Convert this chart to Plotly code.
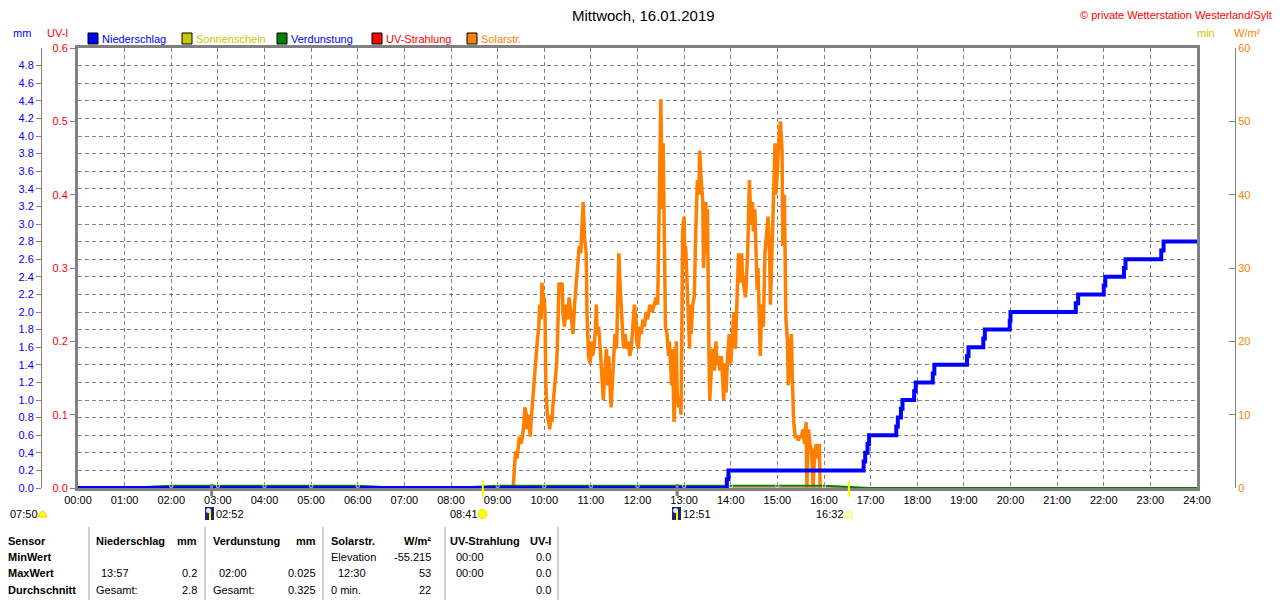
import plotly.graph_objects as go

# Solarstrahlung W/m² (Minuten seit Mitternacht, Wert)
solar_min = [560, 561, 563, 565, 566, 568, 570, 572, 574, 575, 577, 578, 580, 582, 583, 585, 587, 589, 591, 593,
             594, 596, 597, 599, 600, 601, 602, 604, 606, 607, 609, 610, 611, 613, 615, 616, 617, 618, 619, 621,
             623, 624, 626, 628, 630, 632, 634, 636, 637, 639, 641, 643, 645, 647, 649, 650, 652, 654, 655, 656,
             657, 659, 661, 662, 664, 666, 667, 668, 670, 672, 674, 676, 678, 680, 681, 683, 685, 686, 688, 689,
             691, 693, 694, 696, 697, 699, 700, 702, 704, 706, 708, 710, 712, 714, 716, 718, 719, 721, 723, 725,
             727, 729, 731, 733, 736, 739, 742, 744, 746, 748, 750, 751, 752, 753, 754, 755, 756, 758, 760, 761,
             763, 764, 765, 766, 767, 768, 769, 770, 771, 773, 775, 776, 777, 778, 780, 781, 782, 784, 785, 787,
             788, 789, 791, 793, 795, 797, 799, 800, 802, 804, 805, 806, 808, 809, 810, 812, 813, 815, 817, 819,
             821, 822, 824, 826, 828, 829, 831, 832, 834, 836, 838, 840, 842, 844, 846, 848, 850, 852, 854, 855,
             857, 859, 860, 862, 864, 866, 868, 869, 871, 872, 874, 875, 877, 878, 880, 882, 884, 886, 888, 890,
             891, 893, 895, 897, 898, 900, 902, 904, 906, 907, 909, 911, 913, 914, 916, 918, 919, 921, 923, 925,
             927, 929, 931, 933, 935, 937, 938, 940, 942, 944, 946, 948, 950, 952, 954, 955]
solar_wm2 = [0, 2, 5, 4, 5, 7, 6, 7, 9, 11, 10, 8, 10, 7, 9, 12, 15, 17, 20, 22,
             25, 23, 28, 25, 26, 24, 14, 10, 9, 8, 10, 9, 11, 13, 15, 17, 20, 25, 28, 27,
             28, 24, 22, 25, 23, 26, 24, 22, 21, 25, 28, 31, 33, 32, 36, 39, 34, 32, 24, 22,
             18, 17, 20, 18, 19, 22, 25, 21, 22, 19, 15, 12, 16, 19, 14, 18, 13, 11, 15, 17,
             21, 19, 25, 32, 29, 26, 23, 19, 21, 19, 20, 18, 19, 22, 25, 23, 20, 19, 22, 21,
             23, 22, 24, 23, 25, 24, 25, 26, 25, 40, 53, 45, 38, 47, 34, 29, 22, 21, 18, 20,
             17, 14, 19, 11, 9, 12, 18, 20, 13, 11, 12, 10, 20, 35, 37, 30, 33, 27, 22, 19,
             25, 21, 25, 26, 35, 42, 40, 46, 42, 39, 30, 33, 39, 32, 38, 18, 12, 16, 19, 16,
             20, 17, 18, 16, 18, 16, 12, 17, 13, 18, 21, 17, 20, 24, 19, 28, 32, 28, 32, 29,
             27, 26, 28, 33, 42, 36, 39, 35, 38, 35, 27, 30, 20, 18, 25, 22, 32, 35, 37, 32,
             25, 32, 38, 47, 40, 43, 48, 50, 46, 33, 40, 23, 20, 14, 18, 21, 16, 9, 7, 7,
             6.5, 7, 7, 8, 6, 9, 0, 8, 6, 5, 0, 5, 6, 4, 6, 0]

# Niederschlag kumuliert (mm)
rain_min = [0, 835, 837, 1011, 1013, 1016, 1018, 1053, 1055, 1059, 1061, 1076, 1078, 1100, 1102,
            1144, 1146, 1165, 1167, 1199, 1200, 1284, 1287, 1320, 1322, 1346, 1348, 1394, 1397, 1440]
rain_mm = [0, 0.1, 0.2, 0.3, 0.4, 0.5, 0.6, 0.7, 0.8, 0.9, 1.0, 1.1, 1.2, 1.3, 1.4,
           1.5, 1.6, 1.7, 1.8, 1.9, 2.0, 2.1, 2.2, 2.3, 2.4, 2.5, 2.6, 2.7, 2.8, 2.8]

# Verdunstung je Stunde (mm)
evap_hour = list(range(0, 25))
evap_mm = [0, 0, 0.025, 0.025, 0.025, 0.025, 0.025, 0, 0, 0.025, 0.025, 0.025, 0.025,
           0.025, 0.025, 0.025, 0.025, 0, 0, 0, 0, 0, 0, 0, 0]

# UV-Strahlung (UV-I)
uv_min = [0, 1440]
uv_val = [0.0, 0.0]

tick_min = [h * 60 for h in range(25)]
tick_text = ["%02d:00" % h for h in range(25)]
mm_ticks = [round(i * 0.2, 1) for i in range(25)]
uv_ticks = [0.0, 0.1, 0.2, 0.3, 0.4, 0.5, 0.6]

# Sonne / Mond (Minuten)
sunrise, sunset = 521, 992
moon_a, moon_b = 172, 771

row_names = ["Sensor", "MinWert", "MaxWert", "Durchschnitt"]
nieder_col = [("13:57", "0.2", 573), ("Gesamt:", "2.8", 590)]
verd_col = [("02:00", "0.025", 573), ("Gesamt:", "0.325", 590)]
solar_col = [("Elevation", "-55.215", 557), ("12:30", "53", 573), ("0 min.", "22", 590)]
uv_col = [("00:00", "0.0", 557), ("00:00", "0.0", 573), ("", "0.0", 590)]

# die Seite hat 8px Rand -> Figur kleiner, Koordinaten in Seitenpixeln
OFF = 8
W, H = 1280 - OFF, 600 - OFF
PT, PB = 48, 488
GRAY = "#808080"
BLUE, RED, OLIVE, GREEN, ORANGE = "#0000FF", "#FF0000", "#C8C800", "#008000", "#FF8000"
FONT = "Liberation Sans, Arial, sans-serif"


def px(x):
    return (x - OFF) / W


def py(y):
    return (PB - y) / (PB - PT)


fig = go.Figure()

fig.add_trace(go.Scatter(x=uv_min, y=uv_val, yaxis="y", mode="lines",
                         line=dict(color=RED, width=1)))
fig.add_trace(go.Scatter(x=solar_min, y=solar_wm2, yaxis="y2", mode="lines",
                         line=dict(color=ORANGE, width=3.5)))
fig.add_trace(go.Scatter(x=[h * 60 for h in evap_hour], y=evap_mm, yaxis="y4", mode="lines",
                         line=dict(color=GREEN, width=2)))
fig.add_trace(go.Scatter(x=rain_min, y=rain_mm, yaxis="y4", mode="lines",
                         line=dict(color=BLUE, width=4, shape="hv")))
fig.add_trace(go.Scatter(x=[h * 60 for h in evap_hour], y=evap_mm, yaxis="y4", mode="markers",
                         marker=dict(color=GREEN, symbol="square",
                                     size=[3 if v > 0 else 0 for v in evap_mm])))

ann = []


def label(x, y, text, color="black", anchor="left", size=11, bold=False):
    if bold:
        text = "<b>" + text + "</b>"
    ann.append(dict(x=px(x), y=py(y), xref="paper", yref="paper", text=text, showarrow=False,
                    xanchor=anchor, yanchor="middle", font=dict(color=color, size=size, family=FONT)))


label(643, 16, "Mittwoch, 16.01.2019", size=15, anchor="center")
label(1274, 15, "© private Wetterstation Westerland/Sylt", color=RED, anchor="right")
label(22, 33, "mm", color=BLUE, anchor="center")
label(57, 33, "UV-I", color=RED, anchor="center")
label(1206, 33, "min", color=OLIVE, anchor="center")
label(1247, 33, "W/m²", color=ORANGE, anchor="center")

shapes = []
legend = [("Niederschlag", BLUE, BLUE, 88), ("Sonnenschein", OLIVE, OLIVE, 182),
          ("Verdunstung", GREEN, BLUE, 277), ("UV-Strahlung", RED, RED, 372),
          ("Solarstr.", ORANGE, ORANGE, 467)]
for name, fill, tcol, x0 in legend:
    shapes.append(dict(type="rect", xref="paper", yref="paper", x0=px(x0), x1=px(x0 + 10),
                       y0=py(44), y1=py(33), fillcolor=fill, line=dict(color="black", width=1)))
    label(x0 + 12, 38.5, name, color=tcol)

# Sonne / Mond Markierungen an der Zeitachse
for t in (moon_a, moon_b):
    shapes.append(dict(type="line", xref="x", yref="paper", x0=t, x1=t, y0=py(484), y1=py(496),
                       line=dict(color=GRAY, width=3)))
for t in (sunrise, sunset):
    shapes.append(dict(type="line", xref="x", yref="paper", x0=t, x1=t, y0=py(481), y1=py(497),
                       line=dict(color="#FFFF00", width=2)))

label(8, 514, "07:50")
shapes.append(dict(type="path", xref="paper", yref="paper",
                   path="M %f %f Q %f %f %f %f Z" % (px(38), py(517), px(42.5), py(505), px(47), py(517)),
                   fillcolor="#FFFF00", line=dict(color="#E8D000", width=1)))
for x0, txt in ((205, "02:52"), (672, "12:51")):
    shapes.append(dict(type="rect", xref="paper", yref="paper", x0=px(x0), x1=px(x0 + 9),
                       y0=py(520), y1=py(507), fillcolor="#1A237E", line=dict(width=0)))
    shapes.append(dict(type="circle", xref="paper", yref="paper", x0=px(x0 + 1), x1=px(x0 + 6),
                       y0=py(513), y1=py(508), fillcolor="#E0E8F8", line=dict(width=0)))
    shapes.append(dict(type="line", xref="paper", yref="paper", x0=px(x0 + 5), x1=px(x0 + 5),
                       y0=py(520), y1=py(511), line=dict(color="#FFFF00", width=2)))
    label(x0 + 9, 514, txt)
label(448, 514, "08:41")
shapes.append(dict(type="circle", xref="paper", yref="paper", x0=px(478), x1=px(487),
                   y0=py(519), y1=py(509), fillcolor="#FFFF00", line=dict(color="#F0E060", width=1)))
label(814, 514, "16:32")
shapes.append(dict(type="rect", xref="paper", yref="paper", x0=px(846), x1=px(852),
                   y0=py(518), y1=py(512), fillcolor="white", line=dict(color="#FFFF00", width=1)))

# Tabelle
for x in (89, 205, 323, 445, 558):
    shapes.append(dict(type="line", xref="paper", yref="paper", x0=px(x), x1=px(x),
                       y0=py(527), y1=py(600), line=dict(color="#A0A0A0", width=1)))
for name, yy in zip(row_names, (541, 557, 573, 590)):
    label(6, yy, name, bold=True)
label(94, 541, "Niederschlag", bold=True)
label(199, 541, "mm", bold=True, anchor="right")
label(211, 541, "Verdunstung", bold=True)
label(318, 541, "mm", bold=True, anchor="right")
label(329, 541, "Solarstr.", bold=True)
label(433, 541, "W/m²", bold=True, anchor="right")
label(448, 541, "UV-Strahlung", bold=True)
label(553, 541, "UV-I", bold=True, anchor="right")
for l, r, yy in nieder_col:
    label(94 if l.startswith("G") else 99, yy, l)
    label(199, yy, r, anchor="right")
for l, r, yy in verd_col:
    label(211 if l.startswith("G") else 217, yy, l)
    label(318, yy, r, anchor="right")
for l, r, yy in solar_col:
    label(336 if ":" in l else 329, yy, l)
    label(433, yy, r, anchor="right")
for l, r, yy in uv_col:
    if l:
        label(454, yy, l)
    label(553, yy, r, anchor="right")

fig.update_layout(
    width=W, height=H, template="none",
    margin=dict(l=0, r=0, t=PT - OFF, b=600 - PB, pad=0),
    paper_bgcolor="white", plot_bgcolor="white", showlegend=False,
    font=dict(family=FONT, size=11, color="black"),
    xaxis=dict(domain=[px(78), px(1197)], range=[0, 1440], tickvals=tick_min, ticktext=tick_text,
               showgrid=True, gridcolor=GRAY, griddash="4px,3px", gridwidth=1,
               showline=True, linecolor=GRAY, linewidth=3, mirror=True, ticks="",
               zeroline=False, automargin=False, tickfont=dict(size=11, color="black")),
    yaxis=dict(range=[0, 0.6], tickvals=uv_ticks, tickformat=".1f", tickfont=dict(color=RED, size=11),
               ticks="outside", ticklen=5, tickcolor=GRAY, showline=True, linecolor=GRAY,
               linewidth=3, mirror=True, showgrid=False, zeroline=False, automargin=False),
    yaxis2=dict(overlaying="y", anchor="free", position=px(1235), side="right", range=[0, 60],
                dtick=10, ticks="inside", ticklen=6, tickcolor=GRAY, showline=True, linecolor=GRAY,
                linewidth=1, showgrid=False, zeroline=False, automargin=False,
                tickfont=dict(color=ORANGE, size=11)),
    yaxis3=dict(overlaying="y", anchor="x", side="right", range=[0, 20], dtick=5,
                ticks="outside", ticklen=5, tickcolor=GRAY, showline=False, showgrid=False,
                zeroline=False, automargin=False, tickfont=dict(color=OLIVE, size=11)),
    yaxis4=dict(overlaying="y", anchor="free", position=px(41), side="left", range=[0, 5],
                tickvals=mm_ticks, tickformat=".1f", ticks="outside", ticklen=5, tickcolor=GRAY,
                showline=True, linecolor=GRAY, linewidth=1, showgrid=True, gridcolor=GRAY,
                griddash="4px,3px", gridwidth=1, zeroline=False, automargin=False,
                tickfont=dict(color=BLUE, size=11)),
    annotations=ann, shapes=shapes,
)

fig.write_html("out.html")
